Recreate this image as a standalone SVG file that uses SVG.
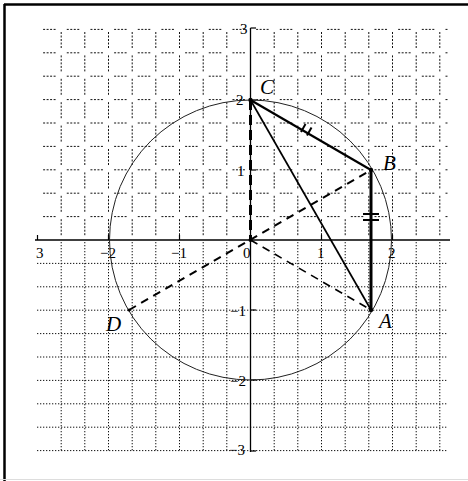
<svg xmlns="http://www.w3.org/2000/svg" width="468" height="481" viewBox="0 0 468 481">
<style>
.gh{stroke:#111;stroke-width:1;stroke-dasharray:2 1.5 2 1.5 2 1.5 2 11.17;fill:none}
.gv{stroke:#111;stroke-width:1;stroke-dasharray:2 1.5 2 1.5 2 1.5 2 1.5 2 7.4;fill:none}
.gd{stroke:#111;stroke-width:1;stroke-dasharray:1.3 1.7;fill:none}
.axis{stroke:#000;stroke-width:1.3;fill:none}
.tick{stroke:#000;stroke-width:1.2}
.num{font-family:"Liberation Serif","DejaVu Serif",serif;font-size:15px;fill:#000}
.lbl{font-family:"Liberation Serif","DejaVu Serif",serif;font-style:italic;font-size:21px;fill:#000}
.solid{stroke:#000;fill:none}
.dash{stroke:#000;fill:none}
</style>
<rect x="0" y="0" width="468" height="481" fill="#fff"/>
<line x1="4" y1="4.5" x2="468" y2="4.5" stroke="#000" stroke-width="2.5"/>
<line x1="4.5" y1="4" x2="4.5" y2="481" stroke="#000" stroke-width="2.5"/>
<line x1="0" y1="479.5" x2="468" y2="479.5" stroke="#ddd" stroke-width="1"/>
<g id="grid">
<g id="grid-upper-v">
<line class="gv" x1="61.2" y1="32" x2="61.2" y2="238"/>
<line class="gv" x1="84.8" y1="32" x2="84.8" y2="238"/>
<line class="gv" x1="108.5" y1="32" x2="108.5" y2="238"/>
<line class="gv" x1="132.2" y1="32" x2="132.2" y2="238"/>
<line class="gv" x1="155.8" y1="32" x2="155.8" y2="238"/>
<line class="gv" x1="179.5" y1="32" x2="179.5" y2="238"/>
<line class="gv" x1="203.2" y1="32" x2="203.2" y2="238"/>
<line class="gv" x1="226.8" y1="32" x2="226.8" y2="238"/>
<line class="gv" x1="274.2" y1="32" x2="274.2" y2="238"/>
<line class="gv" x1="297.8" y1="32" x2="297.8" y2="238"/>
<line class="gv" x1="321.5" y1="32" x2="321.5" y2="238"/>
<line class="gv" x1="345.2" y1="32" x2="345.2" y2="238"/>
<line class="gv" x1="368.8" y1="32" x2="368.8" y2="238"/>
<line class="gv" x1="392.5" y1="32" x2="392.5" y2="238"/>
<line class="gv" x1="416.2" y1="32" x2="416.2" y2="238"/>
<line class="gv" x1="439.8" y1="32" x2="439.8" y2="238"/>
</g>
<g id="grid-upper-h">
<line class="gh" x1="43.1" y1="29.4" x2="448" y2="29.4"/>
<line class="gh" x1="43.1" y1="52.8" x2="448" y2="52.8"/>
<line class="gh" x1="43.1" y1="76.2" x2="448" y2="76.2"/>
<line class="gh" x1="43.1" y1="99.6" x2="448" y2="99.6"/>
<line class="gh" x1="43.1" y1="123" x2="448" y2="123"/>
<line class="gh" x1="43.1" y1="146.4" x2="448" y2="146.4"/>
<line class="gh" x1="43.1" y1="169.8" x2="448" y2="169.8"/>
<line class="gh" x1="43.1" y1="193.2" x2="448" y2="193.2"/>
<line class="gh" x1="43.1" y1="216.6" x2="448" y2="216.6"/>
</g>
<g id="grid-lower">
<line class="gd" x1="61.2" y1="242" x2="61.2" y2="451"/>
<line class="gd" x1="84.8" y1="242" x2="84.8" y2="451"/>
<line class="gd" x1="108.5" y1="242" x2="108.5" y2="451"/>
<line class="gd" x1="132.2" y1="242" x2="132.2" y2="451"/>
<line class="gd" x1="155.8" y1="242" x2="155.8" y2="451"/>
<line class="gd" x1="179.5" y1="242" x2="179.5" y2="451"/>
<line class="gd" x1="203.2" y1="242" x2="203.2" y2="451"/>
<line class="gd" x1="226.8" y1="242" x2="226.8" y2="451"/>
<line class="gd" x1="274.2" y1="242" x2="274.2" y2="451"/>
<line class="gd" x1="297.8" y1="242" x2="297.8" y2="451"/>
<line class="gd" x1="321.5" y1="242" x2="321.5" y2="451"/>
<line class="gd" x1="345.2" y1="242" x2="345.2" y2="451"/>
<line class="gd" x1="368.8" y1="242" x2="368.8" y2="451"/>
<line class="gd" x1="392.5" y1="242" x2="392.5" y2="451"/>
<line class="gd" x1="416.2" y1="242" x2="416.2" y2="451"/>
<line class="gd" x1="439.8" y1="242" x2="439.8" y2="451"/>
<line class="gd" x1="37" y1="263.4" x2="448" y2="263.4"/>
<line class="gd" x1="37" y1="286.8" x2="448" y2="286.8"/>
<line class="gd" x1="37" y1="310.2" x2="448" y2="310.2"/>
<line class="gd" x1="37" y1="333.6" x2="448" y2="333.6"/>
<line class="gd" x1="37" y1="357" x2="448" y2="357"/>
<line class="gd" x1="37" y1="380.4" x2="448" y2="380.4"/>
<line class="gd" x1="37" y1="403.8" x2="448" y2="403.8"/>
<line class="gd" x1="37" y1="427.2" x2="448" y2="427.2"/>
<line class="gd" x1="37" y1="450.6" x2="448" y2="450.6"/>
</g>
</g>
<g id="axes">
<line class="axis" x1="35" y1="240" x2="450" y2="240"/>
<line class="axis" x1="250.5" y1="28" x2="250.5" y2="452"/>
<line class="tick" x1="37.5" y1="235" x2="37.5" y2="240"/>
<line class="tick" x1="108.5" y1="235" x2="108.5" y2="240"/>
<line class="tick" x1="179.5" y1="235" x2="179.5" y2="240"/>
<line class="tick" x1="321.5" y1="235" x2="321.5" y2="240"/>
<line class="tick" x1="392.5" y1="235" x2="392.5" y2="240"/>
<line class="tick" x1="250.5" y1="28" x2="256" y2="28"/>
<line class="tick" x1="250.5" y1="100" x2="256" y2="100"/>
<line class="tick" x1="250.5" y1="170" x2="256" y2="170"/>
<line class="tick" x1="250.5" y1="310" x2="256" y2="310"/>
<line class="tick" x1="250.5" y1="380" x2="256" y2="380"/>
<line class="tick" x1="250.5" y1="451" x2="256" y2="451"/>
<text class="num" x="36" y="258">3</text>
<text class="num" x="100" y="258">−2</text>
<text class="num" x="171" y="258">−1</text>
<text class="num" x="243" y="258">0</text>
<text class="num" x="317" y="258">1</text>
<text class="num" x="388" y="258">2</text>
<text class="num" x="240" y="34">3</text>
<text class="num" x="236" y="105">2</text>
<text class="num" x="237" y="176">1</text>
<text class="num" x="230" y="316">−1</text>
<text class="num" x="230" y="386">−2</text>
<text class="num" x="229" y="455">−3</text>
</g>
<g id="circle">
<ellipse cx="250.5" cy="240" rx="141" ry="140" fill="none" stroke="#222" stroke-width="1"/>
</g>
<g id="connectors">
<line class="dash" x1="250.5" y1="100" x2="250.5" y2="240" stroke-width="3" stroke-dasharray="10 5"/>
<line class="dash" x1="129" y1="310" x2="371" y2="170" stroke-width="2" stroke-dasharray="8 6"/>
<line class="dash" x1="250.5" y1="240" x2="371" y2="310" stroke-width="1.6" stroke-dasharray="8 6"/>
<line class="solid" x1="250.5" y1="100" x2="371" y2="170" stroke-width="2.2"/>
<line class="solid" x1="250.5" y1="100" x2="371" y2="310" stroke-width="1.7"/>
<line class="solid" x1="371" y1="170" x2="371" y2="310" stroke-width="3"/>
<line class="solid" x1="305.5" y1="124" x2="301" y2="132" stroke-width="2"/>
<line class="solid" x1="311.5" y1="127.5" x2="307" y2="135.5" stroke-width="2"/>
<line class="solid" x1="363" y1="214" x2="379" y2="214" stroke-width="2"/>
<line class="solid" x1="363" y1="220" x2="379" y2="220" stroke-width="2"/>
</g>
<g id="node-C">
<circle cx="250.5" cy="100" r="2.2" fill="#000"/>
<text class="lbl" x="260" y="94">C</text>
</g>
<g id="node-B">
<circle cx="371" cy="170" r="2.2" fill="#000"/>
<text class="lbl" x="383" y="170">B</text>
</g>
<g id="node-A">
<circle cx="371" cy="310" r="2.2" fill="#000"/>
<text class="lbl" x="379" y="328">A</text>
</g>
<g id="node-D">
<circle cx="129" cy="310" r="1.5" fill="#000"/>
<text class="lbl" x="106" y="331">D</text>
</g>
<g id="node-O">
<circle cx="250.5" cy="240" r="2" fill="#000"/>
</g>
</svg>
